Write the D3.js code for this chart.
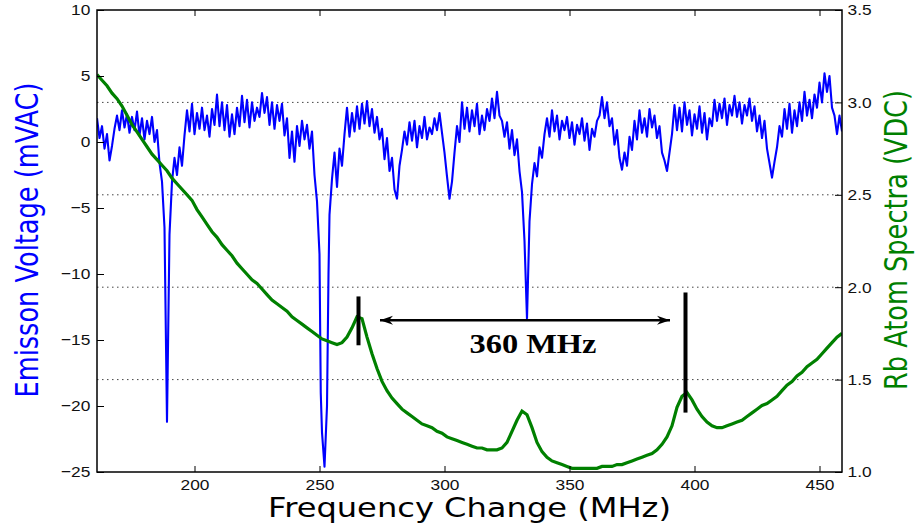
<!DOCTYPE html>
<html>
<head>
<meta charset="utf-8">
<script src="https://cdn.jsdelivr.net/npm/d3@7"></script>
<style>
  html, body { margin: 0; padding: 0; background: #ffffff; }
  #chart { width: 917px; height: 529px; }
</style>
</head>
<body>
<div id="chart"></div>
<script>
// emission signal, 1 MHz steps starting at 161 MHz
const blueStart = 161;
const blueMV = [
  1.8, 0.3, 1.2, -0.5, 0.6, -1.4, -0.3, 1.0, 2.0, 0.9,
  2.4, 1.1, 2.1, 0.7, 1.9, 0.9, 2.3, 0.5, 1.8, 0.2,
  1.6, 0.6, 1.9, 0.0, 0.9, -1.6, -3.0, -6.5, -21.2, -7.0,
  -3.0, -1.2, -2.5, -0.4, -1.8, 0.5, 2.4, 0.8, 2.9, 0.6,
  2.2, 1.0, 2.6, 0.9, 2.0, 0.4, 2.5, 1.3, 3.6, 1.2,
  3.0, 0.9, 2.8, 0.4, 2.1, 0.6, 2.6, 1.2, 3.5, 1.5,
  3.2, 1.1, 3.0, 1.6, 2.6, 1.9, 3.7, 2.2, 3.4, 1.3,
  3.0, 1.0, 2.8, 1.6, 2.9, 0.5, 1.8, -1.2, 0.8, -1.5,
  1.2, -0.3, 1.6, 0.2, 1.3, -0.5, 0.8, -2.5, -4.5, -8.5,
  -22.0, -24.6, -20.0, -5.5, -2.8, -0.8, -3.4, -0.5, -1.8, 0.6,
  2.6, 0.4, 2.2, 0.8, 2.7, 1.0, 2.9, 1.4, 3.1, 1.2,
  2.5, 0.7, 1.9, 0.2, 1.0, -1.3, 0.3, -2.2, -1.2, -3.6,
  -4.3, -1.8, -0.6, 0.8, -0.2, 1.5, 0.1, 1.6, -0.4, 1.2,
  0.3, 1.9, 0.2, 1.1, 0.6, 1.8, 0.9, 2.2, 0.7, -0.8,
  -2.6, -4.3, -3.0, -0.8, 1.2, 0.0, 3.0, 1.0, 2.6, 0.8,
  2.4, 1.2, 2.9, 0.6, 2.0, 0.9, 2.5, 1.6, 3.3, 1.8,
  3.8, 2.0, 1.6, 0.4, 1.5, -0.5, 0.9, -1.0, 0.2, -2.2,
  -3.8, -7.5, -13.4, -6.0, -3.2, -1.6, -2.6, -0.4, -1.2, 0.6,
  1.8, 0.4, 2.4, 0.8, 2.0, 0.2, 1.6, 0.9, 1.9, 0.3,
  1.5, -0.2, 1.3, 0.6, 1.8, 0.1, 1.4, -0.6, 1.0, 0.4,
  1.6, 2.0, 3.4, 1.8, 3.0, 1.2, 1.8, -0.2, 0.9, -1.2,
  -2.1, -0.8, -1.8, 0.4, -0.6, 1.6, 0.2, 2.4, 0.7, 1.8,
  0.4, 2.5, 1.1, 2.0, 0.3, 1.2, -0.8, -1.4, -2.2, -0.8,
  0.6, 2.8, 0.9, 2.6, 0.8, 3.0, 1.3, 2.4, 0.5, 2.1,
  1.0, 2.7, 0.7, 2.2, 0.2, 1.8, 1.2, 3.2, 1.6, 2.9,
  1.8, 3.3, 1.3, 2.8, 2.0, 3.5, 1.9, 3.0, 1.4, 2.8,
  2.0, 3.3, 1.6, 2.7, 0.8, 2.0, 0.3, 1.6, -0.5, -1.6,
  -2.7, -1.5, -0.4, 1.2, 0.4, 2.5, 1.0, 2.9, 0.7, 2.4,
  1.2, 3.0, 1.6, 3.8, 2.0, 3.2, 1.8, 3.6, 2.6, 4.5,
  3.0, 5.2, 3.8, 5.0, 2.6, 2.0, 0.6, 2.0, 0.8
];
// extra samples on the steep sides of the 252 MHz dip
const blueDipFreq = [250.5, 253.6];
const blueDipMV = [-19.0, -10.0];

// Rb spectrum, 2 MHz steps starting at 161 MHz
const greenStart = 161;
const greenVDC = [
  3.15, 3.12, 3.09, 3.05, 3.02, 2.98, 2.93, 2.88, 2.84, 2.80,
  2.76, 2.72, 2.69, 2.66, 2.63, 2.59, 2.56, 2.53, 2.50, 2.47,
  2.42, 2.38, 2.34, 2.30, 2.27, 2.23, 2.20, 2.17, 2.13, 2.10,
  2.07, 2.04, 2.02, 1.99, 1.96, 1.93, 1.91, 1.89, 1.87, 1.84,
  1.82, 1.80, 1.78, 1.76, 1.74, 1.72, 1.71, 1.70, 1.69, 1.70,
  1.73, 1.78, 1.84, 1.83, 1.73, 1.64, 1.56, 1.49, 1.44, 1.40,
  1.37, 1.34, 1.32, 1.30, 1.28, 1.26, 1.25, 1.24, 1.22, 1.21,
  1.19, 1.18, 1.17, 1.16, 1.15, 1.14, 1.13, 1.13, 1.12, 1.12,
  1.12, 1.13, 1.16, 1.22, 1.28, 1.33, 1.31, 1.24, 1.16, 1.11,
  1.08, 1.06, 1.05, 1.04, 1.03, 1.02, 1.02, 1.02, 1.02, 1.02,
  1.02, 1.03, 1.03, 1.03, 1.04, 1.04, 1.05, 1.06, 1.07, 1.08,
  1.09, 1.10, 1.12, 1.15, 1.19, 1.25, 1.35, 1.41, 1.43, 1.39,
  1.34, 1.30, 1.27, 1.25, 1.24, 1.24, 1.25, 1.26, 1.27, 1.28,
  1.30, 1.32, 1.34, 1.36, 1.37, 1.39, 1.41, 1.44, 1.47, 1.49,
  1.52, 1.54, 1.57, 1.59, 1.61, 1.64, 1.67, 1.70, 1.73, 1.75
];

const xTicks = [200, 250, 300, 350, 400, 450];
const leftTicks = [-25, -20, -15, -10, -5, 0, 5, 10];
const rightTicks = [1.0, 1.5, 2.0, 2.5, 3.0, 3.5];
const gridTicks = [1.5, 2.0, 2.5, 3.0];

// annotation: peak markers (freq, mV from..to) and the spacing arrow
const markerFreq = [265.6, 396.4];
const markerTop = [-11.7, -11.4];
const markerBottom = [-15.4, -20.5];
const arrowFreq = [274.2, 390.2];
const arrowMV = -13.5;
const spacingLabel = "360 MHz";
const spacingLabelAt = [335.4, -16.0];

function renderEmissionChart(options = {}) {
    const { containerId = "#chart", width = 917, height = 529 } = options;
    const margin = { top: 10, right: 75, bottom: 57, left: 97 };
    const innerWidth = width - margin.left - margin.right;
    const innerHeight = height - margin.top - margin.bottom;

    const svg = d3.select(containerId).append("svg").attr("width", width).attr("height", height)
        .style("font-family", "'DejaVu Sans', sans-serif");
    const chart = svg.append("g").attr("transform", `translate(${margin.left},${margin.top})`);

    const x = d3.scaleLinear().domain([161, 459]).range([0, innerWidth]);
    const yL = d3.scaleLinear().domain([-25, 10]).range([innerHeight, 0]);
    const yR = d3.scaleLinear().domain([1.0, 3.5]).range([innerHeight, 0]);

    svg.append("defs").append("clipPath").attr("id", "plot-clip")
        .append("rect").attr("width", innerWidth).attr("height", innerHeight);

    // dotted grid at right-axis ticks
    chart.append("g").selectAll("line").data(gridTicks).enter().append("line")
        .attr("x1", 0).attr("x2", innerWidth)
        .attr("y1", d => yR(d)).attr("y2", d => yR(d))
        .attr("stroke", "#444").attr("stroke-width", 1).attr("stroke-dasharray", "1.5,3.5");

    const bluePts = blueMV.map((v, i) => ({ f: blueStart + i, v }))
        .concat(blueDipFreq.map((f, i) => ({ f, v: blueDipMV[i] })))
        .sort((a, b) => a.f - b.f);
    const greenPts = greenVDC.map((v, i) => ({ f: greenStart + 2 * i, v }));

    const plot = chart.append("g").attr("clip-path", "url(#plot-clip)");
    plot.append("path").datum(bluePts)
        .attr("fill", "none").attr("stroke", "#0000ff").attr("stroke-width", 2.1)
        .attr("stroke-linejoin", "round")
        .attr("d", d3.line().x(d => x(d.f)).y(d => yL(d.v)));
    plot.append("path").datum(greenPts)
        .attr("fill", "none").attr("stroke", "#008000").attr("stroke-width", 3.2)
        .attr("d", d3.line().x(d => x(d.f)).y(d => yR(d.v)));

    // axes, ticks pointing inward
    const tickStyle = g => {
        g.select(".domain").remove();
        g.selectAll("line").attr("stroke", "#000").attr("stroke-width", 1);
        g.selectAll("text").style("font-size", "15.5px").style("fill", "#111")
            .attr("transform", "scale(1.12,1)");
    };
    chart.append("g").attr("transform", `translate(0,${innerHeight})`)
        .call(d3.axisBottom(x).tickValues(xTicks).tickSize(-6).tickPadding(7).tickFormat(d3.format("d")))
        .call(tickStyle);
    chart.append("g")
        .call(d3.axisTop(x).tickValues(xTicks).tickSize(-6).tickFormat(""))
        .call(tickStyle);
    chart.append("g")
        .call(d3.axisLeft(yL).tickValues(leftTicks).tickSize(-7).tickPadding(6).tickFormat(d => d < 0 ? "\u2212" + Math.abs(d) : d))
        .call(tickStyle);
    chart.append("g").attr("transform", `translate(${innerWidth},0)`)
        .call(d3.axisRight(yR).tickValues(rightTicks).tickSize(-7).tickPadding(5).tickFormat(d3.format(".1f")))
        .call(tickStyle);

    chart.append("rect").attr("width", innerWidth).attr("height", innerHeight)
        .attr("fill", "none").attr("stroke", "#000").attr("stroke-width", 1.5);

    // annotation
    const ann = chart.append("g");
    ann.selectAll("line.marker").data(markerFreq).enter().append("line")
        .attr("x1", d => x(d)).attr("x2", d => x(d))
        .attr("y1", (d, i) => yL(markerTop[i])).attr("y2", (d, i) => yL(markerBottom[i]))
        .attr("stroke", "#000").attr("stroke-width", 4);

    svg.select("defs").append("marker").attr("id", "head")
        .attr("viewBox", "-14 -6 16 12").attr("refX", 0).attr("refY", 0)
        .attr("markerWidth", 16).attr("markerHeight", 12).attr("markerUnits", "userSpaceOnUse")
        .attr("orient", "auto-start-reverse")
        .append("path").attr("d", "M0,0 L-13,-4.5 L-9,0 L-13,4.5 Z").attr("fill", "#000");
    ann.append("line")
        .attr("x1", x(arrowFreq[0])).attr("x2", x(arrowFreq[1]))
        .attr("y1", yL(arrowMV)).attr("y2", yL(arrowMV))
        .attr("stroke", "#000").attr("stroke-width", 2.5)
        .attr("marker-start", "url(#head)").attr("marker-end", "url(#head)");
    ann.append("text")
        .attr("x", x(spacingLabelAt[0])).attr("y", yL(spacingLabelAt[1]))
        .attr("text-anchor", "middle")
        .attr("textLength", 127).attr("lengthAdjust", "spacingAndGlyphs")
        .style("font-family", "'Liberation Serif', 'Times New Roman', serif")
        .style("font-weight", "bold").style("font-size", "27px").style("fill", "#000")
        .text(spacingLabel);

    // axis titles
    svg.append("text").attr("x", margin.left + innerWidth / 2).attr("y", 517)
        .attr("text-anchor", "middle").attr("textLength", 403).attr("lengthAdjust", "spacingAndGlyphs")
        .style("font-size", "27px").style("fill", "#000").text("Frequency Change (MHz)");
    svg.append("text").attr("transform", "translate(38,240) scale(1.3,1) rotate(-90)")
        .attr("text-anchor", "middle").attr("textLength", 315).attr("lengthAdjust", "spacingAndGlyphs")
        .style("font-size", "25px").style("fill", "#0000ff").text("Emisson Voltage (mVAC)");
    svg.append("text").attr("transform", "translate(907,240) scale(1.3,1) rotate(-90)")
        .attr("text-anchor", "middle").attr("textLength", 300).attr("lengthAdjust", "spacingAndGlyphs")
        .style("font-size", "25px").style("fill", "#008000").text("Rb Atom Spectra (VDC)");
}

renderEmissionChart();
</script>
</body>
</html>
